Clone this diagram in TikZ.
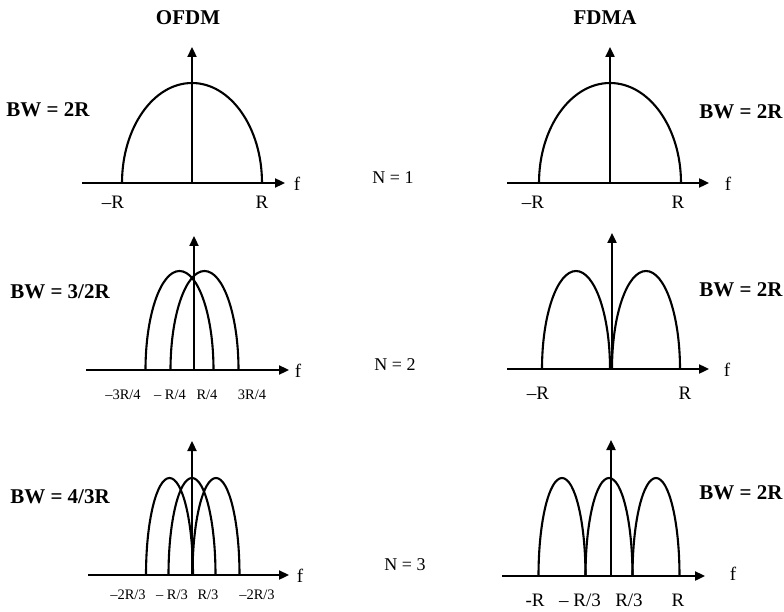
\documentclass[tikz,border=0pt]{standalone}
\usepackage{fontspec}
\setmainfont{Liberation Serif}
\usetikzlibrary{arrows.meta}
\begin{document}
\begin{tikzpicture}[x=1pt,y=-1pt,
  axisline/.style={line width=2.3pt,-{Triangle[length=10pt,width=9pt]}},
  lobe/.style={line width=2.1pt},
  lbl/.style={font=\fontsize{19}{19}\selectfont, inner sep=0},
  fraclbl/.style={font=\fontsize{14.5}{14.5}\selectfont, inner sep=0},
  bwlbl/.style={font=\fontsize{21}{21}\selectfont\bfseries, inner sep=0},
  title/.style={font=\fontsize{21}{21}\selectfont\bfseries, inner sep=0},
  nlbl/.style={font=\fontsize{18}{18}\selectfont, inner sep=0}]
\useasboundingbox (0,0) rectangle (784,612);

% titles
\node[title] (tofdm) at (188,18) {OFDM};
\node[title] (tfdma) at (605,18) {FDMA};

% N labels
\node[nlbl] (n1) at (393,178) {N = 1};
\node[nlbl] (n2) at (395,365) {N = 2};
\node[nlbl] (n3) at (405,565) {N = 3};

% ===== Top-left: OFDM N=1
\draw[axisline] (82,183) -- (285,183);
\draw[axisline] (192,183) -- (192,47);
\draw[lobe] (122,183) arc[start angle=180,end angle=360,x radius=70,y radius=100];
\node[lbl] (tlf) at (297,184) {f};
\node[lbl] (tlm) at (113,202) {–R};
\node[lbl] (tlr) at (262,202) {R};
\node[bwlbl] (tlbw) at (48,110) {BW = 2R};

% ===== Top-right: FDMA N=1
\draw[axisline] (507,183) -- (709,183);
\draw[axisline] (610,183) -- (610,47);
\draw[lobe] (539,183) arc[start angle=180,end angle=360,x radius=71,y radius=100];
\node[lbl] (trf) at (728,184) {f};
\node[lbl] (trm) at (533,202) {–R};
\node[lbl] (trr) at (678,202) {R};
\node[bwlbl] (trbw) at (741,112) {BW = 2R};

% ===== Middle-left: OFDM N=2
\draw[axisline] (86,370) -- (289,370);
\draw[axisline] (194,370) -- (194,236);
\draw[lobe] (145.5,370) arc[start angle=180,end angle=360,x radius=34,y radius=99];
\draw[lobe] (170.5,370) arc[start angle=180,end angle=360,x radius=34,y radius=99];
\node[lbl] (mlf) at (298,371) {f};
\node[fraclbl] (ml1) at (123,395) {–3R/4};
\node[fraclbl] (ml2) at (170,395) {– R/4};
\node[fraclbl] (ml3) at (207,395) {R/4};
\node[fraclbl] (ml4) at (252,395) {3R/4};
\node[bwlbl] (mlbw) at (60,292) {BW = 3/2R};

% ===== Middle-right: FDMA N=2
\draw[axisline] (507,369) -- (709,369);
\draw[axisline] (612,369) -- (612,233);
\draw[lobe] (542,369) arc[start angle=180,end angle=360,x radius=34,y radius=98];
\draw[lobe] (612,369) arc[start angle=180,end angle=360,x radius=34,y radius=98];
\node[lbl] (mrf) at (727,370) {f};
\node[lbl] (mrm) at (538,393) {–R};
\node[lbl] (mrr) at (685,393) {R};
\node[bwlbl] (mrbw) at (741,290) {BW = 2R};

% ===== Bottom-left: OFDM N=3
\draw[axisline] (88,575) -- (289,575);
\draw[axisline] (192,575) -- (192,441);
\draw[lobe] (146,575) arc[start angle=180,end angle=360,x radius=23.5,y radius=97];
\draw[lobe] (168.5,575) arc[start angle=180,end angle=360,x radius=23.5,y radius=97];
\draw[lobe] (192.5,575) arc[start angle=180,end angle=360,x radius=23.5,y radius=97];
\node[lbl] (blf) at (300,576) {f};
\node[fraclbl] (bl1) at (128,595) {–2R/3};
\node[fraclbl] (bl2) at (172,595) {– R/3};
\node[fraclbl] (bl3) at (208,595) {R/3};
\node[fraclbl] (bl4) at (257,595) {–2R/3};
\node[bwlbl] (blbw) at (60,497) {BW = 4/3R};

% ===== Bottom-right: FDMA N=3
\draw[axisline] (502,576) -- (705,576);
\draw[axisline] (611,576) -- (611,440);
\draw[lobe] (538.5,576) arc[start angle=180,end angle=360,x radius=23.5,y radius=98];
\draw[lobe] (585.5,576) arc[start angle=180,end angle=360,x radius=23.5,y radius=98];
\draw[lobe] (632.5,576) arc[start angle=180,end angle=360,x radius=23.5,y radius=98];
\node[lbl] (brf) at (733,574) {f};
\node[lbl] (brm) at (535,600) {-R};
\node[lbl] (br2) at (580,600) {– R/3};
\node[lbl] (br3) at (629,600) {R/3};
\node[lbl] (brr) at (678,600) {R};
\node[bwlbl] (brbw) at (741,493) {BW = 2R};
\end{tikzpicture}
\end{document}
